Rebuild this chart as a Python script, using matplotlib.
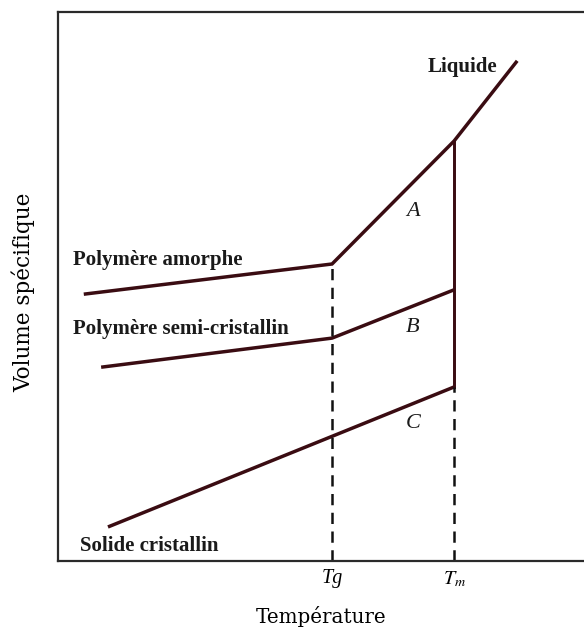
import matplotlib
matplotlib.use("Agg")
import matplotlib.pyplot as plt

# ---- data (arbitrary temperature / specific-volume units) ----
T_g = 52.1
T_m = 75.3
amorphe_T = [4.9, T_g, T_m, 87.3]
amorphe_V = [48.6, 54.1, 76.5, 91.1]
semi_T = [8.2, T_g, T_m]
semi_V = [35.3, 40.6, 49.4]
cristal_T = [9.5, T_m]
cristal_V = [6.2, 31.7]
tick_pos = [T_g, T_m]
tick_labels = ["Tg", r"$T_m$"]

plt.rcParams["mathtext.fontset"] = "stix"
SERIF = ["Liberation Serif", "DejaVu Serif"]
WIDE = ["DejaVu Serif"]
LINE = "#3a0c12"

fig = plt.figure(figsize=(5.84, 6.31), dpi=100)
W, H = 584, 631
ax = fig.add_axes([58 / W, (H - 561) / H, (584 - 58) / W, (561 - 12) / H])
ax.set_xlim(0, 100)
ax.set_ylim(0, 100)

lw = 2.5
ax.plot(amorphe_T, amorphe_V, color=LINE, lw=lw, solid_capstyle="butt", solid_joinstyle="miter")
ax.plot(semi_T, semi_V, color=LINE, lw=lw, solid_capstyle="butt")
ax.plot(cristal_T, cristal_V, color=LINE, lw=lw, solid_capstyle="butt")
# melting jump at Tm
ax.plot([T_m, T_m], [cristal_V[-1], amorphe_V[2]], color=LINE, lw=lw * 0.85)
# dashed guides
ax.plot([T_g, T_g], [0, amorphe_V[1]], color="#111111", lw=1.8, ls=(0, (4.5, 3)))
ax.plot([T_m, T_m], [0, cristal_V[-1]], color="#111111", lw=1.8, ls=(0, (4.5, 3)))

for s in ["left", "top", "bottom"]:
    ax.spines[s].set_linewidth(1.6)
    ax.spines[s].set_color("#2a2a2a")
ax.spines["right"].set_visible(False)

ax.set_yticks([])
ax.set_xticks(tick_pos)
ax.set_xticklabels(tick_labels, fontsize=14.5, fontstyle="italic", family=SERIF)
ax.tick_params(axis="x", length=0, pad=6)

ax.set_xlabel("Température", fontsize=14.3, family=WIDE, labelpad=12)
fig.text(24 / W, 1 - 292 / H, "Volume spécifique", rotation=90, fontsize=15.5,
         family=WIDE, ha="center", va="center")

bold = dict(fontsize=15, fontweight="bold", family=SERIF, color="#1a1a1a")
ax.text(2.85, 53.9, "Polymère amorphe", ha="left", va="baseline", **bold)
ax.text(2.85, 41.3, "Polymère semi-cristallin", ha="left", va="baseline", **bold)
ax.text(4.2, 1.8, "Solide cristallin", ha="left", va="baseline", **bold)
ax.text(70.3, 89.1, "Liquide", ha="left", va="baseline", **bold)

ital = dict(fontsize=16, fontstyle="italic", family=SERIF, color="#1a1a1a",
            ha="center", va="center")
ax.text(67.5, 63.6, "A", **ital)
ax.text(67.5, 42.6, "B", **ital)
ax.text(67.5, 25.1, "C", **ital)

fig.savefig("out.png", dpi=100)
